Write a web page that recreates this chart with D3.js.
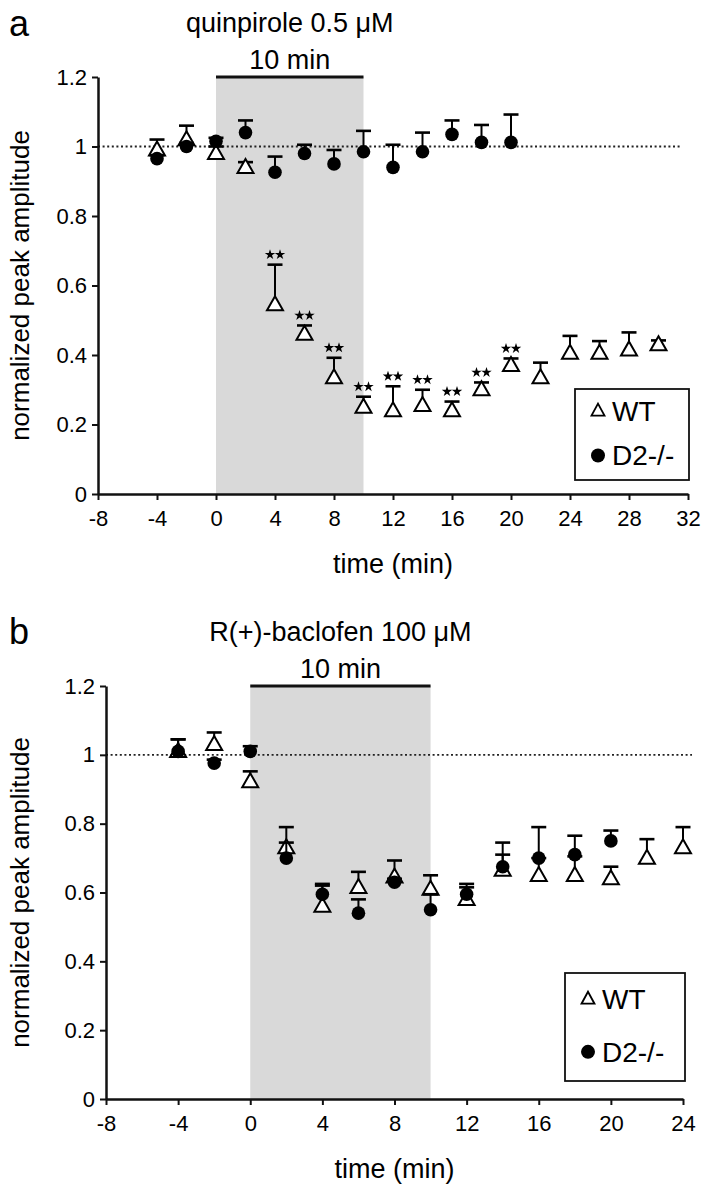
<!DOCTYPE html>
<html><head><meta charset="utf-8">
<script src="https://cdn.jsdelivr.net/npm/d3@7"></script>
<style>
body{margin:0;background:#fff}
svg{display:block}
text{font-family:"Liberation Sans",Arial,Helvetica,sans-serif;fill:#000}
</style>
</head><body>
<svg id="chart" width="705" height="1199"></svg>
<script>
// ---------- data ----------
const yTicks = [0, 0.2, 0.4, 0.6, 0.8, 1, 1.2];
const yTickLabels = ["0", "0.2", "0.4", "0.6", "0.8", "1", "1.2"];

// panel a : quinpirole
const xTicksA = [-8, -4, 0, 4, 8, 12, 16, 20, 24, 28, 32];
const timesA_WT = [-4, -2, 0, 2, 4, 6, 8, 10, 12, 14, 16, 18, 20, 22, 24, 26, 28, 30];
const wtA = [0.99, 1.02, 0.98, 0.94, 0.545, 0.46, 0.335, 0.25, 0.24, 0.255, 0.24, 0.30, 0.37, 0.335, 0.405, 0.405, 0.415, 0.43];
const wtA_err = [0.03, 0.04, 0.02, 0.015, 0.115, 0.025, 0.057, 0.03, 0.07, 0.045, 0.026, 0.021, 0.02, 0.043, 0.05, 0.035, 0.05, 0.012];
const timesA_D2 = [-4, -2, 0, 2, 4, 6, 8, 10, 12, 14, 16, 18, 20];
const d2A = [0.965, 1.0, 1.015, 1.04, 0.926, 0.98, 0.95, 0.985, 0.94, 0.985, 1.035, 1.012, 1.012];
const d2A_err = [0.01, 0.01, 0.01, 0.035, 0.045, 0.025, 0.04, 0.06, 0.065, 0.055, 0.04, 0.05, 0.08];
const starTimesA = [4, 6, 8, 10, 12, 14, 16, 18, 20];

// panel b : baclofen
const xTicksB = [-8, -4, 0, 4, 8, 12, 16, 20, 24];
const timesB_WT = [-4, -2, 0, 2, 4, 6, 8, 10, 12, 14, 16, 18, 20, 22, 24];
const wtB = [1.01, 1.03, 0.922, 0.73, 0.56, 0.615, 0.645, 0.61, 0.58, 0.665, 0.65, 0.65, 0.64, 0.70, 0.73];
const wtB_err = [0.035, 0.035, 0.03, 0.06, 0.065, 0.045, 0.048, 0.04, 0.045, 0.08, 0.05, 0.055, 0.035, 0.055, 0.06];
const timesB_D2 = [-4, -2, 0, 2, 4, 6, 8, 10, 12, 14, 16, 18, 20];
const d2B = [1.01, 0.976, 1.01, 0.70, 0.595, 0.54, 0.63, 0.55, 0.595, 0.675, 0.70, 0.71, 0.75];
const d2B_err = [0.035, 0.01, 0.015, 0.045, 0.025, 0.04, 0.01, 0.045, 0.02, 0.035, 0.09, 0.055, 0.03];

const legendLabels = ["WT", "D2-/-"];

// ---------- drawing ----------
const svg = d3.select("#chart");

function triPath(w, h) {
  const p = d3.path();
  p.moveTo(0, -h * 0.6); p.lineTo(w / 2, h * 0.4); p.lineTo(-w / 2, h * 0.4); p.closePath();
  return p.toString();
}

function panel(cfg) {
  const g = svg.append("g");
  const x = d3.scaleLinear().domain(cfg.xDomain).range([cfg.x0, cfg.x1]);
  const y = d3.scaleLinear().domain([0, 1.2]).range([cfg.y0, cfg.y1]);

  // drug application shading
  g.append("rect").attr("x", x(0)).attr("y", y(1.2)).attr("width", x(10) - x(0))
    .attr("height", y(0) - y(1.2)).attr("fill", "#d9d9d9");
  g.append("line").attr("x1", x(0)).attr("x2", x(10)).attr("y1", y(1.2)).attr("y2", y(1.2))
    .attr("stroke", "#111").attr("stroke-width", 3);

  // baseline dotted
  g.append("line").attr("x1", x(cfg.xDomain[0])).attr("x2", cfg.dotEnd)
    .attr("y1", y(1)).attr("y2", y(1))
    .attr("stroke", "#222").attr("stroke-width", 1.8).attr("stroke-dasharray", "2,2.6");

  // axes
  const ya = g.append("g").attr("transform", `translate(${x(cfg.xDomain[0])},0)`)
    .call(d3.axisLeft(y).tickValues(yTicks).tickFormat((d, i) => yTickLabels[i]).tickSize(6).tickSizeOuter(0).tickPadding(5));
  const xa = g.append("g").attr("transform", `translate(0,${y(0)})`)
    .call(d3.axisBottom(x).tickValues(cfg.xTicks).tickFormat(d => String(d)).tickSize(6).tickSizeOuter(0).tickPadding(10));
  [ya, xa].forEach(a => {
    a.select(".domain").attr("stroke", "#111").attr("stroke-width", 2.5);
    a.selectAll(".tick line").attr("stroke", "#111").attr("stroke-width", 2);
    a.selectAll(".tick text").style("font-size", "22px").attr("fill", "#000");
  });

  // labels
  g.append("text").attr("x", cfg.letterX).attr("y", cfg.letterY).text(cfg.letter)
    .style("font-size", "36px");
  g.append("text").attr("x", (x(0) + x(10)) / 2).attr("y", y(1.2) - 45).attr("text-anchor", "middle")
    .text(cfg.title).style("font-size", "27px");
  g.append("text").attr("x", (x(0) + x(10)) / 2).attr("y", y(1.2) - 8).attr("text-anchor", "middle")
    .text("10 min").style("font-size", "27px");
  g.append("text").attr("x", (cfg.x0 + cfg.x1) / 2 + cfg.xTitleDx).attr("y", y(0) + 79).attr("text-anchor", "middle")
    .text("time (min)").style("font-size", "27px");
  g.append("text").attr("transform", `translate(${cfg.yTitleX},${(y(0) + y(1.2)) / 2}) rotate(-90)`)
    .attr("text-anchor", "middle").text("normalized peak amplitude").style("font-size", "26px");

  const wt = cfg.wtT.map((t, i) => ({ t, v: cfg.wt[i], e: cfg.wtE[i] }));
  const d2 = cfg.d2T.map((t, i) => ({ t, v: cfg.d2[i], e: cfg.d2E[i] }));

  function errBars(data) {
    const eg = g.append("g").attr("stroke", "#000");
    eg.selectAll(".stem").data(data).join("line")
      .attr("x1", d => x(d.t)).attr("x2", d => x(d.t))
      .attr("y1", d => y(d.v)).attr("y2", d => y(d.v + d.e)).attr("stroke-width", 2);
    eg.selectAll(".cap").data(data).join("line")
      .attr("x1", d => x(d.t) - 7.5).attr("x2", d => x(d.t) + 7.5)
      .attr("y1", d => y(d.v + d.e)).attr("y2", d => y(d.v + d.e)).attr("stroke-width", 2.6);
  }

  errBars(wt);
  g.append("g").selectAll("path").data(wt).join("path")
    .attr("d", triPath(16, 14))
    .attr("transform", d => `translate(${x(d.t)},${y(d.v)})`)
    .attr("fill", "#fff").attr("stroke", "#000").attr("stroke-width", 2);
  errBars(d2);
  g.append("g").selectAll("circle").data(d2).join("circle")
    .attr("cx", d => x(d.t)).attr("cy", d => y(d.v)).attr("r", 6.8).attr("fill", "#000");

  // significance stars
  if (cfg.stars) {
    const sd = wt.filter(d => cfg.stars.includes(d.t));
    const star = d3.symbol(d3.symbolStar, 34)();
    const sg = g.append("g");
    sd.forEach(d => {
      [-5, 5].forEach(dx => {
        sg.append("path").attr("d", star)
          .attr("transform", `translate(${x(d.t) + dx},${y(d.v + d.e) - 10})`).attr("fill", "#000");
      });
    });
  }

  // legend
  const L = cfg.legend;
  g.append("rect").attr("x", L.x).attr("y", L.y).attr("width", L.w).attr("height", L.h)
    .attr("fill", "#fff").attr("stroke", "#111").attr("stroke-width", 1.8);
  g.append("path").attr("d", triPath(13, 12))
    .attr("transform", `translate(${L.x + 23},${L.y + L.h * 0.24})`)
    .attr("fill", "#fff").attr("stroke", "#000").attr("stroke-width", 1.8);
  g.append("circle").attr("cx", L.x + 23).attr("cy", L.y + L.h * 0.73).attr("r", 7).attr("fill", "#000");
  g.append("text").attr("x", L.x + 37).attr("y", L.y + L.h * 0.24 + 10).text(legendLabels[0]).style("font-size", "28px");
  g.append("text").attr("x", L.x + 37).attr("y", L.y + L.h * 0.73 + 10).text(legendLabels[1]).style("font-size", "28px");
}

panel({
  xDomain: [-8, 32], x0: 98, x1: 688, y0: 494, y1: 77, xTicks: xTicksA,
  dotEnd: 681, letter: "a", letterX: 9, letterY: 36, title: "quinpirole 0.5 μM",
  xTitleDx: 0, yTitleX: 29,
  wtT: timesA_WT, wt: wtA, wtE: wtA_err, d2T: timesA_D2, d2: d2A, d2E: d2A_err,
  stars: starTimesA,
  legend: { x: 575, y: 389, w: 114, h: 91 }
});

panel({
  xDomain: [-8, 24], x0: 106, x1: 683, y0: 1099, y1: 686, xTicks: xTicksB,
  dotEnd: 692, letter: "b", letterX: 9, letterY: 644, title: "R(+)-baclofen 100 μM",
  xTitleDx: 0, yTitleX: 29,
  wtT: timesB_WT, wt: wtB, wtE: wtB_err, d2T: timesB_D2, d2: d2B, d2E: d2B_err,
  stars: null,
  legend: { x: 565, y: 973, w: 120, h: 108 }
});
</script>
</body></html>
